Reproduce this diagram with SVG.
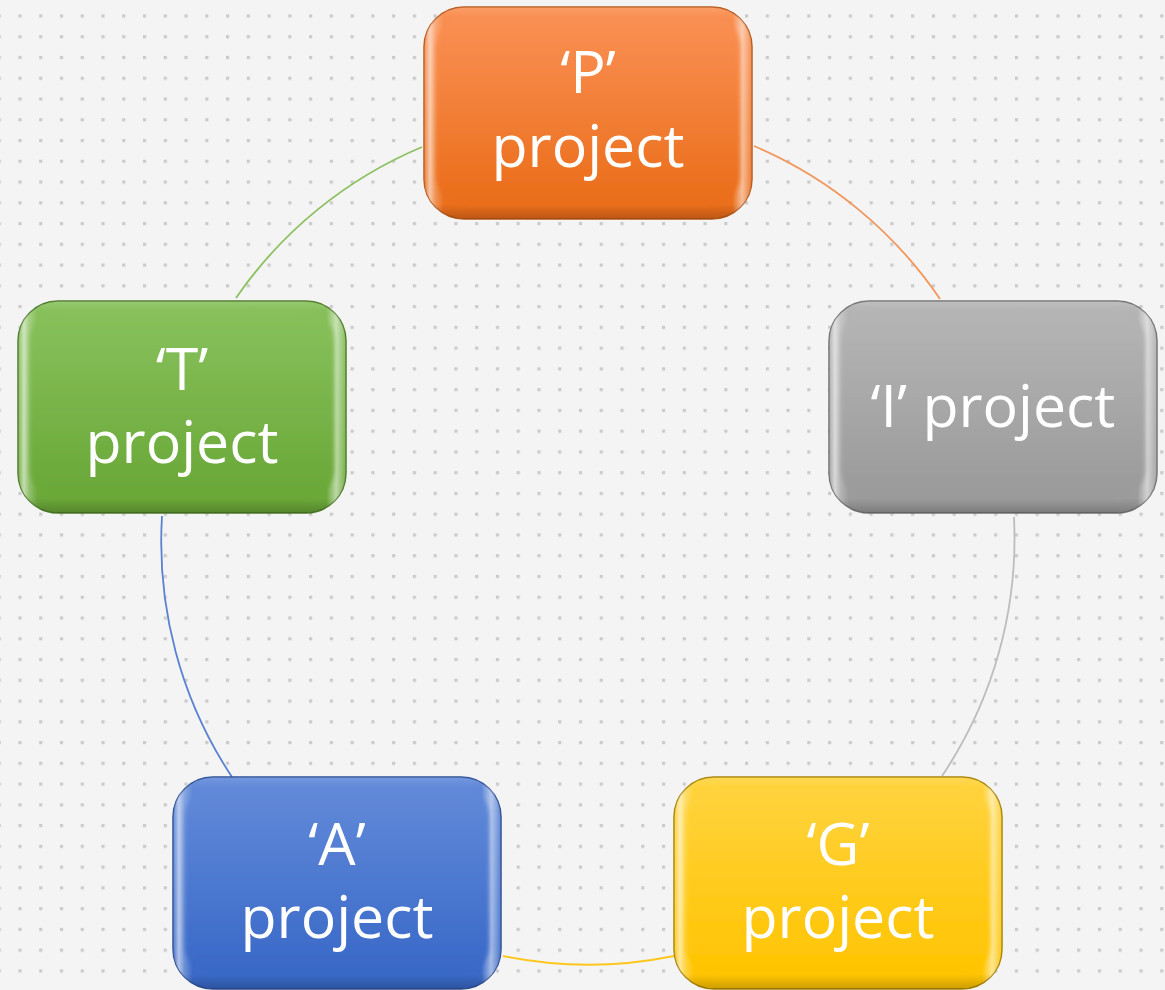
<svg xmlns="http://www.w3.org/2000/svg" width="1165" height="990" viewBox="0 0 1165 990">
<defs>
<pattern id="dots" x="18.4" y="14.4" width="20.76" height="20.76" patternUnits="userSpaceOnUse">
<rect x="0" y="0" width="3.2" height="3.2" fill="#cbcbcb"/>
</pattern>
<linearGradient id="gOrange" x1="0" y1="0" x2="0" y2="1"><stop offset="0" stop-color="#fa9054"/><stop offset="1" stop-color="#ea6d19"/></linearGradient>
<linearGradient id="gGray" x1="0" y1="0" x2="0" y2="1"><stop offset="0" stop-color="#b5b5b5"/><stop offset="1" stop-color="#9a9a9a"/></linearGradient>
<linearGradient id="gGreen" x1="0" y1="0" x2="0" y2="1"><stop offset="0" stop-color="#88c15c"/><stop offset="1" stop-color="#69a737"/></linearGradient>
<linearGradient id="gBlue" x1="0" y1="0" x2="0" y2="1"><stop offset="0" stop-color="#628ad9"/><stop offset="1" stop-color="#3868c7"/></linearGradient>
<linearGradient id="gYellow" x1="0" y1="0" x2="0" y2="1"><stop offset="0" stop-color="#ffd33e"/><stop offset="1" stop-color="#ffc400"/></linearGradient>
<linearGradient id="sheen" x1="0" y1="0" x2="1" y2="0">
<stop offset="0" stop-color="#ffffff" stop-opacity="0.05"/>
<stop offset="0.018" stop-color="#ffffff" stop-opacity="0.6"/>
<stop offset="0.035" stop-color="#ffffff" stop-opacity="0.25"/>
<stop offset="0.06" stop-color="#ffffff" stop-opacity="0"/>
<stop offset="0.94" stop-color="#ffffff" stop-opacity="0"/>
<stop offset="0.97" stop-color="#ffffff" stop-opacity="0.55"/>
<stop offset="1" stop-color="#ffffff" stop-opacity="0.05"/>
</linearGradient>
<linearGradient id="shade" x1="0" y1="0" x2="0" y2="1">
<stop offset="0" stop-color="#ffffff" stop-opacity="0.12"/>
<stop offset="0.05" stop-color="#ffffff" stop-opacity="0"/>
<stop offset="0.93" stop-color="#000000" stop-opacity="0"/>
<stop offset="1" stop-color="#000000" stop-opacity="0.2"/>
</linearGradient>
<filter id="soft" x="-5%" y="-5%" width="110%" height="110%"><feGaussianBlur stdDeviation="2.2"/></filter>
</defs>
<style>
.bg{fill:#f4f4f4}
.box{stroke-width:1.5}
.lbl{font-family:"Open Sans","Liberation Sans",sans-serif;font-size:59px;fill:#ffffff;text-anchor:middle}
.arc{fill:none;stroke-width:1.8}
.face{filter:url(#soft)}
</style>
<rect class="bg" x="0" y="0" width="1165" height="990"/>
<rect x="0" y="0" width="1165" height="990" fill="url(#dots)"/>

<g id="connectors">
<path class="arc" stroke="#f2965c" d="M754,146 A426,426 0 0 1 940,299"/>
<path class="arc" stroke="#bdbdbd" d="M1014,517 A426,426 0 0 1 942,776"/>
<path class="arc" stroke="#ffc61e" d="M674,956 A426,426 0 0 1 503,956"/>
<path class="arc" stroke="#5a82d2" d="M232,777 A426,426 0 0 1 162,516"/>
<path class="arc" stroke="#8dc060" d="M236,298 A426,426 0 0 1 422,147"/>
</g>

<g id="node-P">
<rect class="box" x="424" y="7" width="328" height="212" rx="40" fill="url(#gOrange)" stroke="#b9591a"/>
<rect x="424" y="7" width="328" height="212" rx="40" fill="url(#sheen)"/>
<rect x="424" y="7" width="328" height="212" rx="40" fill="url(#shade)"/>
<rect class="face" x="436" y="17" width="304" height="188" rx="30" fill="url(#gOrange)"/>
<text class="lbl" x="588" y="93">‘P’</text>
<text class="lbl" x="588" y="167">project</text>
</g>

<g id="node-I">
<rect class="box" x="829" y="301" width="328" height="212" rx="40" fill="url(#gGray)" stroke="#727272"/>
<rect x="829" y="301" width="328" height="212" rx="40" fill="url(#sheen)"/>
<rect x="829" y="301" width="328" height="212" rx="40" fill="url(#shade)"/>
<rect class="face" x="841" y="311" width="304" height="188" rx="30" fill="url(#gGray)"/>
<text class="lbl" x="993" y="427">‘I’ project</text>
</g>

<g id="node-T">
<rect class="box" x="18" y="301" width="328" height="212" rx="40" fill="url(#gGreen)" stroke="#4c7a28"/>
<rect x="18" y="301" width="328" height="212" rx="40" fill="url(#sheen)"/>
<rect x="18" y="301" width="328" height="212" rx="40" fill="url(#shade)"/>
<rect class="face" x="30" y="311" width="304" height="188" rx="30" fill="url(#gGreen)"/>
<text class="lbl" x="182" y="390">‘T’</text>
<text class="lbl" x="182" y="463">project</text>
</g>

<g id="node-A">
<rect class="box" x="173" y="777" width="328" height="212" rx="40" fill="url(#gBlue)" stroke="#2d4f96"/>
<rect x="173" y="777" width="328" height="212" rx="40" fill="url(#sheen)"/>
<rect x="173" y="777" width="328" height="212" rx="40" fill="url(#shade)"/>
<rect class="face" x="185" y="787" width="304" height="188" rx="30" fill="url(#gBlue)"/>
<text class="lbl" x="337" y="865">‘A’</text>
<text class="lbl" x="337" y="938">project</text>
</g>

<g id="node-G">
<rect class="box" x="674" y="777" width="328" height="212" rx="40" fill="url(#gYellow)" stroke="#a88400"/>
<rect x="674" y="777" width="328" height="212" rx="40" fill="url(#sheen)"/>
<rect x="674" y="777" width="328" height="212" rx="40" fill="url(#shade)"/>
<rect class="face" x="686" y="787" width="304" height="188" rx="30" fill="url(#gYellow)"/>
<text class="lbl" x="838" y="865">‘G’</text>
<text class="lbl" x="838" y="938">project</text>
</g>
</svg>
